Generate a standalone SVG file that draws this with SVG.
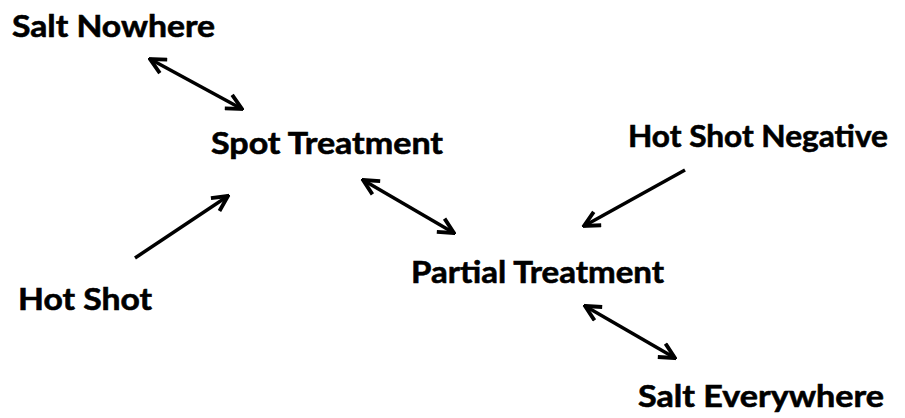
<svg xmlns="http://www.w3.org/2000/svg" width="905" height="418" viewBox="0 0 905 418">
<style>
.t{font-family:Lato,"Open Sans","Liberation Sans",sans-serif;font-weight:bold;font-size:31px;fill:#000;stroke:#000;stroke-width:0.6}
.c{stroke:#000;stroke-width:3.5;fill:none}
</style>
<defs>
<marker id="h" viewBox="0 0 10 10" refX="9" refY="5" markerWidth="5.5" markerHeight="5.5" orient="auto-start-reverse" markerUnits="strokeWidth">
<path d="M1,1 L9,5 L1,9" fill="none" stroke="#000" stroke-width="2"/>
</marker>
</defs>
<rect width="905" height="418" fill="#fff"/>
<g id="salt-nowhere"><text class="t" x="12" y="37" textLength="203" lengthAdjust="spacingAndGlyphs">Salt Nowhere</text></g>
<g id="spot-treatment"><text class="t" x="211" y="154" textLength="232" lengthAdjust="spacingAndGlyphs">Spot Treatment</text></g>
<g id="hot-shot-negative"><text class="t" x="628" y="147" textLength="260" lengthAdjust="spacingAndGlyphs">Hot Shot Negative</text></g>
<g id="hot-shot"><text class="t" x="18" y="310" textLength="134" lengthAdjust="spacingAndGlyphs">Hot Shot</text></g>
<g id="partial-treatment"><text class="t" x="411" y="283" textLength="253" lengthAdjust="spacingAndGlyphs">Partial Treatment</text></g>
<g id="salt-everywhere"><text class="t" x="638" y="407" textLength="246" lengthAdjust="spacingAndGlyphs">Salt Everywhere</text></g>
<g id="connectors">
<line class="c" x1="150" y1="59" x2="242" y2="109" marker-start="url(#h)" marker-end="url(#h)"/>
<line class="c" x1="135" y1="258" x2="228" y2="196" marker-end="url(#h)"/>
<line class="c" x1="363" y1="180" x2="454" y2="233" marker-start="url(#h)" marker-end="url(#h)"/>
<line class="c" x1="685" y1="170" x2="584" y2="226" marker-end="url(#h)"/>
<line class="c" x1="585" y1="306" x2="675" y2="358" marker-start="url(#h)" marker-end="url(#h)"/>
</g>
</svg>
